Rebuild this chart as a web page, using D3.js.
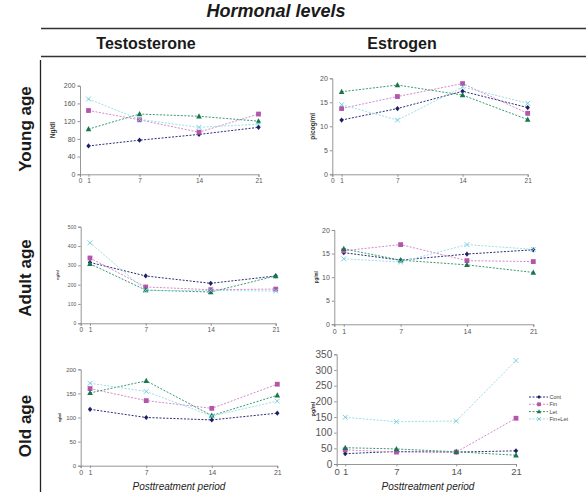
<!DOCTYPE html>
<html>
<head>
<meta charset="utf-8">
<script src="https://cdn.jsdelivr.net/npm/d3@7"></script>
<style>
  html, body { margin: 0; padding: 0; background: #fff; }
  svg { display: block; font-family: "Liberation Sans", Arial, sans-serif; }
</style>
</head>
<body>
<svg id="chart" width="586" height="495"></svg>
<script>
// ---------------- DATA ----------------
const days = [1, 7, 14, 21];
const xTickValues = [0, 1, 7, 14, 21];
const seriesNames = ["Cont", "Fin", "Let", "Fin+Let"];
const hormones = ["Testosterone", "Estrogen"];
const ageGroups = ["Young age", "Adult age", "Old age"];
const xAxisTitle = "Posttreatment period";
const mainTitle = "Hormonal levels";

// values per series: [Cont, Fin, Let, Fin+Let], each at days 1, 7, 14, 21
const testoYoungCont   = [64, 77, 90, 106];
const testoYoungFin    = [144, 123, 95, 136];
const testoYoungLet    = [102, 136, 131, 120];
const testoYoungFinLet = [170, 124, 106, 113];

const estroYoungCont   = [11.3, 13.7, 17.3, 13.9];
const estroYoungFin    = [13.7, 16.2, 18.9, 12.7];
const estroYoungLet    = [17.2, 18.6, 16.5, 11.4];
const estroYoungFinLet = [14.5, 11.3, 18.2, 14.8];

const testoAdultCont   = [315, 245, 207, 245];
const testoAdultFin    = [338, 188, 174, 177];
const testoAdultLet    = [308, 172, 162, 245];
const testoAdultFinLet = [417, 170, 170, 167];

const estroAdultCont   = [15.2, 13.6, 14.9, 15.8];
const estroAdultFin    = [15.6, 16.9, 13.5, 13.3];
const estroAdultLet    = [16.0, 13.6, 12.6, 11.0];
const estroAdultFinLet = [13.9, 13.2, 16.9, 15.9];

const testoOldCont   = [117, 100, 95, 109];
const testoOldFin    = [160, 135, 119, 169];
const testoOldLet    = [151, 176, 104, 146];
const testoOldFinLet = [171, 154, 103, 134];

const estroOldCont   = [33, 40, 38, 42];
const estroOldFin    = [45, 38, 38, 146];
const estroOldLet    = [52, 48, 39, 28];
const estroOldFinLet = [149, 135, 137, 330];

// y-axis ticks and unit labels per panel
const testoYoungTicks = [0, 40, 80, 120, 160, 200];
const estroYoungTicks = [0, 5, 10, 15, 20];
const testoAdultTicks = [0, 100, 200, 300, 400, 500];
const estroAdultTicks = [0, 5, 10, 15, 20];
const testoOldTicks   = [0, 50, 100, 150, 200];
const estroOldTicks   = [0, 50, 100, 150, 200, 250, 300, 350];
const unitLabels = ["Ng/dl", "picog/ml", "ng/ml", "pg/ml", "ng/ml", "pg/ml"];

// ---------------- STYLE / LAYOUT ----------------
const seriesStyle = [
  { marker: "diamond",  fill: "#1c1f66", line: "#2a2e78" },
  { marker: "square",   fill: "#b455ac", line: "#d48ad0" },
  { marker: "triangle", fill: "#17774c", line: "#3d9a6e" },
  { marker: "cross",    fill: "#78d0da", line: "#9ddfe6" }
];

const panels = [
  { series: [testoYoungCont, testoYoungFin, testoYoungLet, testoYoungFinLet], ticks: testoYoungTicks,
    x0: 80, x1: 258.5, y0: 174.3, y1: 85.7, tickFont: 7, xFont: 6.5, unitFont: 6.5, unitX: 55, markerScale: 1 },
  { series: [estroYoungCont, estroYoungFin, estroYoungLet, estroYoungFinLet], ticks: estroYoungTicks,
    x0: 332.3, x1: 527.7, y0: 174.3, y1: 78.3, tickFont: 7, xFont: 6.5, unitFont: 6.5, unitX: 315, markerScale: 1 },
  { series: [testoAdultCont, testoAdultFin, testoAdultLet, testoAdultFinLet], ticks: testoAdultTicks,
    x0: 80.7, x1: 275.7, y0: 323.3, y1: 226.7, tickFont: 5, xFont: 6.5, unitFont: 3.5, unitX: 59, markerScale: 1 },
  { series: [estroAdultCont, estroAdultFin, estroAdultLet, estroAdultFinLet], ticks: estroAdultTicks,
    x0: 334.3, x1: 533.3, y0: 324.3, y1: 230, tickFont: 7, xFont: 7, unitFont: 4.5, unitX: 318, markerScale: 1 },
  { series: [testoOldCont, testoOldFin, testoOldLet, testoOldFinLet], ticks: testoOldTicks,
    x0: 80.7, x1: 277.3, y0: 465.7, y1: 369.3, tickFont: 6, xFont: 7, unitFont: 3.5, unitX: 61, markerScale: 1 },
  { series: [estroOldCont, estroOldFin, estroOldLet, estroOldFinLet], ticks: estroOldTicks,
    x0: 336.7, x1: 516, y0: 464, y1: 354.3, tickFont: 10, xFont: 9.5, unitFont: 5.5, unitX: 315, markerScale: 1 }
];
const axisTitleX = [179, 428];

const svg = d3.select("#chart");

// ---------------- HEADER ----------------
svg.append("text").attr("x", 276).attr("y", 17).attr("text-anchor", "middle")
  .attr("font-size", 18).attr("font-weight", "bold").attr("font-style", "italic")
  .attr("fill", "#1a1a1a").text(mainTitle);

svg.append("line").attr("x1", 41).attr("x2", 586).attr("y1", 28.5).attr("y2", 28.5)
  .attr("stroke", "#333").attr("stroke-width", 1.3);
svg.append("line").attr("x1", 41).attr("x2", 586).attr("y1", 56.5).attr("y2", 56.5)
  .attr("stroke", "#333").attr("stroke-width", 1.3);
svg.append("line").attr("x1", 40.5).attr("x2", 40.5).attr("y1", 60).attr("y2", 492)
  .attr("stroke", "#222").attr("stroke-width", 1.3);

const headerX = [146, 402];
hormones.forEach((h, i) => {
  svg.append("text").attr("x", headerX[i]).attr("y", 49).attr("text-anchor", "middle")
    .attr("font-size", 16).attr("font-weight", "bold").attr("fill", "#1a1a1a").text(h);
});

const rowY = [129, 278, 426];
ageGroups.forEach((g, i) => {
  svg.append("text").attr("transform", `translate(31,${rowY[i]}) rotate(-90)`)
    .attr("text-anchor", "middle").attr("font-size", 17).attr("font-weight", "bold")
    .attr("fill", "#1a1a1a").text(g);
});

// ---------------- MARKERS ----------------
function drawMarker(g, type, x, y, color, s) {
  if (type === "diamond") {
    g.append("path").attr("d", `M${x},${y - 2.6 * s}L${x + 2.2 * s},${y}L${x},${y + 2.6 * s}L${x - 2.2 * s},${y}Z`)
      .attr("fill", color);
  } else if (type === "square") {
    g.append("rect").attr("x", x - 2.4 * s).attr("y", y - 2.4 * s)
      .attr("width", 4.8 * s).attr("height", 4.8 * s).attr("fill", color);
  } else if (type === "triangle") {
    g.append("path").attr("d", `M${x},${y - 3 * s}L${x + 2.8 * s},${y + 2.2 * s}L${x - 2.8 * s},${y + 2.2 * s}Z`)
      .attr("fill", color);
  } else {
    const r = 2.4 * s;
    g.append("path").attr("d", `M${x - r},${y - r}L${x + r},${y + r}M${x - r},${y + r}L${x + r},${y - r}`)
      .attr("stroke", color).attr("stroke-width", 1).attr("fill", "none");
  }
}

// ---------------- PANELS ----------------
panels.forEach((p, pi) => {
  const yMax = p.ticks[p.ticks.length - 1];
  const x = d3.scaleLinear().domain([0, 21]).range([p.x0, p.x1]);
  const y = d3.scaleLinear().domain([0, yMax]).range([p.y0, p.y1]);
  const g = svg.append("g");

  const yAxis = g.append("g").attr("transform", `translate(${p.x0},0)`)
    .call(d3.axisLeft(y).tickValues(p.ticks).tickSize(2.5).tickPadding(2).tickFormat(d3.format("d")));
  const xAxis = g.append("g").attr("transform", `translate(0,${p.y0})`)
    .call(d3.axisBottom(x).tickValues(xTickValues).tickSize(2.5).tickPadding(2).tickFormat(d3.format("d")));

  [yAxis, xAxis].forEach(a => {
    a.select(".domain").attr("stroke", "#8a8a8a").attr("stroke-width", 0.9);
    a.selectAll(".tick line").attr("stroke", "#8a8a8a").attr("stroke-width", 0.9);
    a.selectAll(".tick text").attr("fill", "#555").attr("font-family", "Liberation Sans, Arial, sans-serif");
  });
  yAxis.selectAll(".tick text").attr("font-size", p.tickFont);
  xAxis.selectAll(".tick text").attr("font-size", p.xFont);

  g.append("text")
    .attr("transform", `translate(${p.unitX},${(p.y0 + p.y1) / 2}) rotate(-90)`)
    .attr("text-anchor", "middle").attr("font-size", p.unitFont).attr("font-weight", "bold")
    .attr("fill", "#333").text(unitLabels[pi]);

  const line = d3.line().x((d, i) => x(days[i])).y(d => y(d));
  p.series.forEach((vals, si) => {
    g.append("path").datum(vals).attr("d", line).attr("fill", "none")
      .attr("stroke", seriesStyle[si].line).attr("stroke-width", 1)
      .attr("stroke-dasharray", "2,1.5");
  });
  p.series.forEach((vals, si) => {
    vals.forEach((v, i) => drawMarker(g, seriesStyle[si].marker, x(days[i]), y(v), seriesStyle[si].fill, p.markerScale));
  });

  if (pi >= 4) {
    g.append("text").attr("x", axisTitleX[pi - 4]).attr("y", 490).attr("text-anchor", "middle")
      .attr("font-size", 10).attr("font-style", "italic").attr("fill", "#222").text(xAxisTitle);
  }
});

// ---------------- LEGEND ----------------
const legendY = [397, 404.3, 411.6, 419];
const legend = svg.append("g");
seriesNames.forEach((name, i) => {
  legend.append("line").attr("x1", 529).attr("x2", 548).attr("y1", legendY[i]).attr("y2", legendY[i])
    .attr("stroke", seriesStyle[i].line).attr("stroke-width", 1).attr("stroke-dasharray", "2,1.5");
  drawMarker(legend, seriesStyle[i].marker, 539, legendY[i], seriesStyle[i].fill, 0.8);
  legend.append("text").attr("x", 549.5).attr("y", legendY[i] + 2).attr("font-size", 5.5)
    .attr("fill", "#444").text(name);
});
</script>
</body>
</html>
